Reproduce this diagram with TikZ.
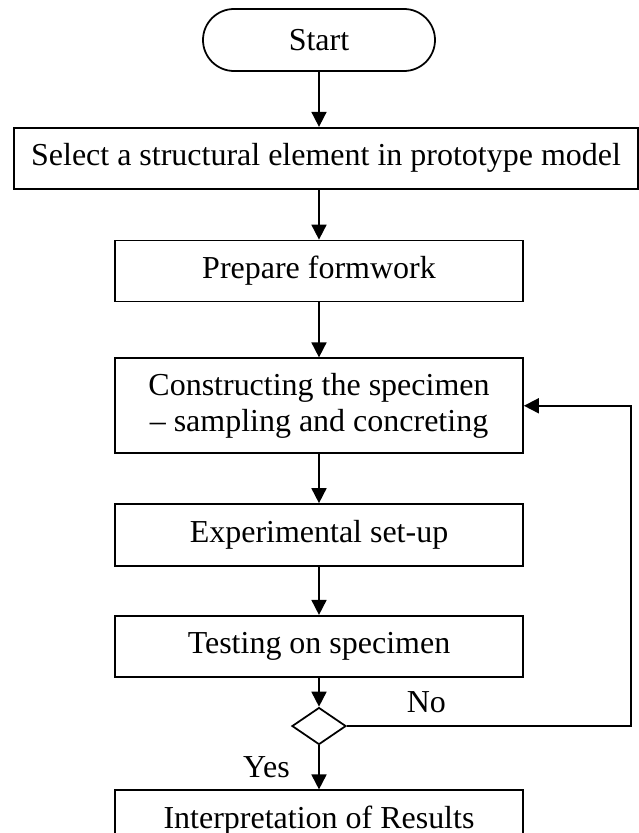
\documentclass[tikz,border=0pt]{standalone}
\usepackage{fontspec}
\setmainfont{Liberation Serif}
\usepackage{tikz}
\usetikzlibrary{positioning,arrows.meta,shapes.geometric}
\tikzset{
  node-box/.style={draw,line width=1pt,minimum width=8.16cm,
    minimum height=1.22cm,align=center},
  node-wide/.style={node-box,minimum width=12.48cm},
  node-term/.style={draw,line width=1pt,rounded corners=6.2mm,
    minimum width=4.64cm,minimum height=1.24cm},
  node-decision/.style={draw,line width=1pt,diamond,inner sep=0pt,
    minimum width=1.08cm,minimum height=0.74cm},
  arrow/.style={-{Triangle[length=3mm,width=3mm]},line width=1pt},
}

\begin{document}
\begin{tikzpicture}[node distance=1cm,
  font=\fontsize{18.2pt}{20.5pt}\selectfont]
  \useasboundingbox (-6.38,0.8) rectangle (6.38,-15.86);
  \node[node-term] (start) at (0,0) {Start};
  \node[node-wide,below=1.1cm of start,xshift=1.4mm] (b2)
    {Select a structural element in prototype model};
  \node[node-box,below=of b2,xshift=-1.4mm] (b3) {Prepare formwork};
  \node[node-box,below=1.1cm of b3,minimum height=1.9cm] (b4)
    {Constructing the specimen\\-- sampling and concreting};
  \node[node-box,below=0.98cm of b4,minimum height=1.24cm] (b5)
    {Experimental set-up};
  \node[node-box,below=0.96cm of b5] (b6) {Testing on specimen};
  \node[node-decision,below=0.58cm of b6] (dec) {};
  \node[node-box,below=0.88cm of dec] (b7) {Interpretation of Results};
  \coordinate (loop-x) at (6.24,0);

  \draw[arrow] (start) -- (start |- b2.north);
  \draw[arrow] (b2.south -| b3) -- (b3);
  \draw[arrow] (b3) -- (b4);
  \draw[arrow] (b4) -- (b5);
  \draw[arrow] (b5) -- (b6);
  \draw[arrow] (b6) -- (dec);
  \draw[arrow] (dec) -- node[left=4.5mm] {Yes} (b7);
  \draw[arrow] (dec.east) -- node[above=1.4mm,pos=0.28] {No}
    (dec.east -| loop-x) |- (b4.east);
\end{tikzpicture}
\end{document}
